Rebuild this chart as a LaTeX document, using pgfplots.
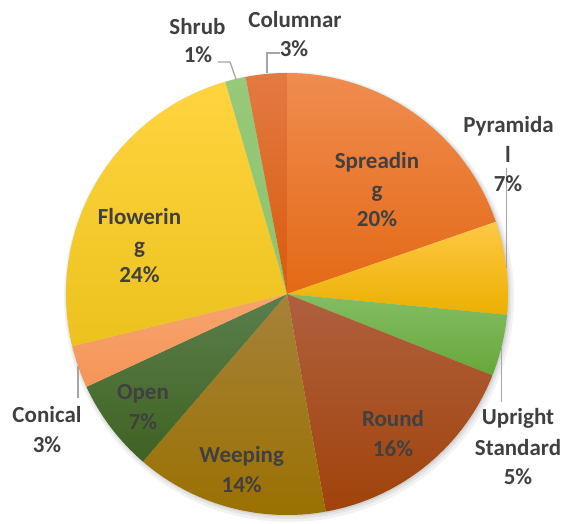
\documentclass[border=0pt]{standalone}
\usepackage{pgfplots}
\pgfplotsset{compat=1.18}
\usepackage{pgfplotstable}
\usepackage{fontspec}
\setmainfont{Carlito}
\definecolor{lbl}{HTML}{404040}
\definecolor{lead}{HTML}{A6A6A6}
% slice colours (top / bottom of gradient)
\definecolor{top0}{HTML}{F08C50}\definecolor{bot0}{HTML}{E36915}
\definecolor{top1}{HTML}{FFC845}\definecolor{bot1}{HTML}{EBB000}
\definecolor{top2}{HTML}{84BD64}\definecolor{bot2}{HTML}{66A83A}
\definecolor{top3}{HTML}{B0603F}\definecolor{bot3}{HTML}{A0430A}
\definecolor{top4}{HTML}{A6823A}\definecolor{bot4}{HTML}{9A7000}
\definecolor{top5}{HTML}{5B7F4C}\definecolor{bot5}{HTML}{3F6222}
\definecolor{top6}{HTML}{F7A46E}\definecolor{bot6}{HTML}{F59558}
\definecolor{top7}{HTML}{FFD43F}\definecolor{bot7}{HTML}{ECC21E}
\definecolor{top8}{HTML}{96C97A}\definecolor{bot8}{HTML}{8DC46C}
\definecolor{top9}{HTML}{E37A43}\definecolor{bot9}{HTML}{D85B0C}
\newcommand\lf{\fontsize{23}{29}\selectfont\bfseries}

\pgfplotstableread{
name value
Spreading 19.7
Pyramidal 6.8
Upright 4.5
Round 16.2
Weeping 14.1
Open 6.8
Conical 3.1
Flowering 24.3
Shrub 1.5
Columnar 3.0
}\slices

\begin{document}
\begin{tikzpicture}
\begin{axis}[hide axis, scale only axis, x=1pt, y=1pt,
  xmin=-287, xmax=276, ymin=-224, ymax=294, clip=false, disabledatascaling]
\path (axis cs:-287,-224) rectangle (axis cs:276,294);
% soft shadow
\fill[black, opacity=0.05] (axis cs:2,-3) circle[radius=225pt];
\fill[black, opacity=0.06] (axis cs:1.5,-2) circle[radius=223pt];
\fill[black, opacity=0.08] (axis cs:1,-1) circle[radius=221.5pt];
\xdef\cum{0}
\pgfplotsforeachungrouped \i in {0,...,9}{%
  \pgfplotstablegetelem{\i}{value}\of\slices
  \let\v\pgfplotsretval
  \pgfmathsetmacro\aa{90-3.6*\cum}%
  \pgfmathsetmacro\bb{90-3.6*(\cum+\v)}%
  \pgfmathsetmacro\xa{221*cos(\aa)}%
  \pgfmathsetmacro\ya{221*sin(\aa)}%
  \edef\cmd{\noexpand\shade[top color=top\i, bottom color=bot\i] (axis cs:0,0) -- (axis cs:\xa,\ya) arc[start angle=\aa, end angle=\bb, radius=221pt] -- cycle;}%
  \cmd
  \pgfmathsetmacro\c{\cum+\v}%
  \xdef\cum{\c}%
}
% leader lines
\draw[lead, line width=1.3pt] (axis cs:-69,232) -- (axis cs:-57,232) -- (axis cs:-51,215);
\draw[lead, line width=1.3pt] (axis cs:-7,241) -- (axis cs:-20,241) -- (axis cs:-20,221);
\draw[lead, line width=1.3pt] (axis cs:219.5,126) -- (axis cs:219.5,26);
\draw[lead, line width=1.3pt] (axis cs:214.7,-52) -- (axis cs:214.7,-108);
\draw[lead, line width=1.3pt] (axis cs:-209,-72) -- (axis cs:-209,-104);
% labels
\tikzset{lb/.style={anchor=base, text=lbl, font=\lf, inner sep=0pt}}
\node[lb] at (axis cs:8,266) {Columnar};
\node[lb] at (axis cs:7,237) {3\%};
\node[lb] at (axis cs:-89.5,259) {Shrub};
\node[lb] at (axis cs:-89,231) {1\%};
\node[lb] at (axis cs:221.5,161) {Pyramida};
\node[lb] at (axis cs:221,131) {l};
\node[lb] at (axis cs:221,102) {7\%};
\node[lb] at (axis cs:231,-131) {Upright};
\node[lb] at (axis cs:231,-161) {Standard};
\node[lb] at (axis cs:231,-190) {5\%};
\node[lb] at (axis cs:-240,-129) {Conical};
\node[lb] at (axis cs:-240,-159) {3\%};
\node[lb] at (axis cs:90,125) {Spreadin};
\node[lb] at (axis cs:90,96) {g};
\node[lb] at (axis cs:90,67) {20\%};
\node[lb] at (axis cs:-147.5,69) {Flowerin};
\node[lb] at (axis cs:-147.5,40) {g};
\node[lb] at (axis cs:-147.5,11) {24\%};
\node[lb] at (axis cs:106,-133) {Round};
\node[lb] at (axis cs:106,-163) {16\%};
\node[lb] at (axis cs:-45.3,-168) {Weeping};
\node[lb] at (axis cs:-45.3,-198) {14\%};
\node[lb] at (axis cs:-144,-106) {Open};
\node[lb] at (axis cs:-144,-136) {7\%};
\end{axis}
\end{tikzpicture}
\end{document}
